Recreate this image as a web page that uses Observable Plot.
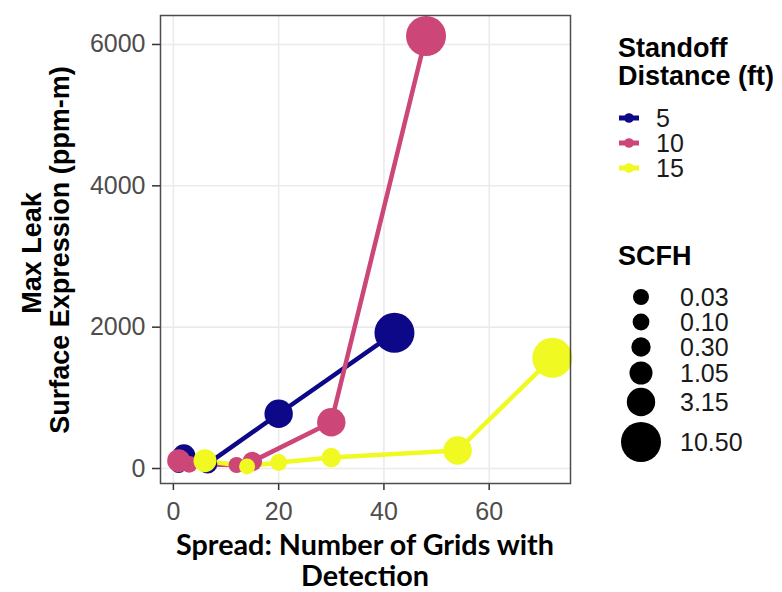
<!DOCTYPE html>
<html><head><meta charset="utf-8">
<script src="https://cdn.jsdelivr.net/npm/d3@7"></script>
<script src="https://cdn.jsdelivr.net/npm/@observablehq/plot@0.6"></script>
<style>
html,body{margin:0;padding:0;background:#fff;}
#wrap{position:relative;width:782px;height:592px;overflow:hidden;background:#fff;}
#wrap svg{position:absolute;left:0;top:0;}
</style></head><body><div id="wrap"></div>
<script>
// ---- data ----
const standoff = ["5", "10", "15"];
const standoffColors = ["#0D0887", "#CC4678", "#F0F921"];
const scfhLevels = [0.03, 0.10, 0.30, 1.05, 3.15, 10.50];
const scfhLabels = ["0.03", "0.10", "0.30", "1.05", "3.15", "10.50"];
const xTicks = [0, 20, 40, 60];
const yTicks = [0, 2000, 4000, 6000];

// standoff 5 ft
const spread5 = [1, 1, 2, 6.5, 20, 42];
const leak5 = [50, 70, 180, 65, 775, 1920];
const scfh5 = [0.03, 0.10, 1.05, 0.30, 3.15, 10.50];
// standoff 10 ft
const spread10 = [1, 3, 12, 15, 30, 48];
const leak10 = [110, 60, 50, 100, 655, 6120];
const scfh10 = [1.05, 0.10, 0.03, 0.30, 3.15, 10.50];
// standoff 15 ft
const spread15 = [6, 14, 20, 30, 54, 72];
const leak15 = [110, 30, 85, 155, 255, 1566];
const scfh15 = [1.05, 0.03, 0.10, 0.30, 3.15, 10.50];

const yTitle = ["Max Leak", "Surface Expression (ppm-m)"];
const xTitle = ["Spread: Number of Grids with", "Detection"];
const colorTitle = ["Standoff", "Distance (ft)"];
const sizeTitle = "SCFH";

// ---- build table ----
const rows = [];
[[standoff[0], spread5, leak5, scfh5],
 [standoff[1], spread10, leak10, scfh10],
 [standoff[2], spread15, leak15, scfh15]].forEach(([s, xs, ys, ss]) => {
  xs.forEach((x, i) => rows.push({standoff: s, spread: x, leak: ys[i], scfh: ss[i]}));
});

const FONT = "'Liberation Sans', Arial, Helvetica, sans-serif";

const plot = Plot.plot({
  width: 782, height: 592,
  marginLeft: 160, marginRight: 212, marginTop: 15, marginBottom: 109,
  style: {fontFamily: FONT, background: "transparent"},
  x: {domain: [-2.45, 75.45]},
  y: {domain: [-212, 6410]},
  color: {domain: standoff, range: standoffColors},
  r: {type: "linear", domain: scfhLevels, range: [8, 8.4, 9.7, 11.5, 14.2, 20]},
  marks: [
    Plot.gridX(xTicks, {stroke: "#EBEBEB", strokeOpacity: 1, strokeWidth: 1.6}),
    Plot.gridY(yTicks, {stroke: "#EBEBEB", strokeOpacity: 1, strokeWidth: 1.6}),
    Plot.axisX(xTicks, {tickSize: 7, tickPadding: 12, fontSize: 25, stroke: "#333", fill: "#4D4D4D", strokeWidth: 1.5, label: null, tickFormat: d => String(d)}),
    Plot.axisY(yTicks, {tickSize: 8, tickPadding: 7, fontSize: 25, stroke: "#333", fill: "#4D4D4D", strokeWidth: 1.5, label: null, tickFormat: d => String(d)}),
    Plot.line(rows, {x: "spread", y: "leak", z: "standoff", stroke: "standoff", strokeWidth: 4.5, strokeLinejoin: "round"}),
    Plot.dot(rows, {x: "spread", y: "leak", r: "scfh", fill: "standoff", stroke: null, sort: null}),
    Plot.frame({stroke: "#4D4D4D", strokeWidth: 1.5})
  ]
});
const wrap = document.getElementById("wrap");
wrap.appendChild(plot);

// ---- overlay: titles and legends ----
const rScale = plot.scale("r");
const svg = d3.select(wrap).append("svg")
  .attr("width", 782).attr("height", 592)
  .style("font-family", FONT);

// y title
svg.append("text").attr("transform", "translate(41,253) rotate(-90)")
  .attr("text-anchor", "middle").attr("font-size", 27).attr("font-weight", "bold").attr("fill", "#000")
  .text(yTitle[0]);
svg.append("text").attr("transform", "translate(69,250) rotate(-90)")
  .attr("text-anchor", "middle").attr("font-size", 27).attr("font-weight", "bold").attr("fill", "#000")
  .text(yTitle[1]);

// x title (Calibri-like)
const xt1 = svg.append("text").attr("x", 365).attr("y", 555).attr("text-anchor", "middle")
  .style("font-family", "Lato, 'Open Sans', sans-serif").attr("font-weight", "bold").attr("font-size", 25).attr("fill", "#000")
  .text(xTitle[0]);
const w = xt1.node().getComputedTextLength();
const fs = w > 0 ? 25 * 378 / w : 25;
xt1.attr("font-size", fs);
svg.append("text").attr("x", 365).attr("y", 586).attr("text-anchor", "middle")
  .style("font-family", "Lato, 'Open Sans', sans-serif").attr("font-weight", "bold").attr("font-size", fs).attr("fill", "#000")
  .text(xTitle[1]);

// color legend
svg.append("text").attr("x", 618).attr("y", 57).attr("font-size", 27).attr("font-weight", "bold").text(colorTitle[0]);
svg.append("text").attr("x", 618).attr("y", 85).attr("font-size", 27).attr("font-weight", "bold").text(colorTitle[1]);
standoff.forEach((s, i) => {
  const cy = 118 + i * 25;
  const g = svg.append("g");
  g.append("line").attr("x1", 619).attr("x2", 639).attr("y1", cy).attr("y2", cy)
    .attr("stroke", standoffColors[i]).attr("stroke-width", 5);
  g.append("circle").attr("cx", 629).attr("cy", cy).attr("r", 4.8).attr("fill", standoffColors[i]);
  g.append("text").attr("x", 656).attr("y", cy).attr("dy", "0.36em").attr("font-size", 25).attr("fill", "#1a1a1a").text(s);
});

// size legend
svg.append("text").attr("x", 618).attr("y", 265).attr("font-size", 27).attr("font-weight", "bold").text(sizeTitle);
const sizeY = [297, 322, 347, 373, 402, 442];
scfhLevels.forEach((v, i) => {
  svg.append("circle").attr("cx", 641).attr("cy", sizeY[i]).attr("r", rScale.apply(v)).attr("fill", "#000");
  svg.append("text").attr("x", 680).attr("y", sizeY[i]).attr("dy", "0.36em").attr("font-size", 25).attr("fill", "#1a1a1a").text(scfhLabels[i]);
});
</script>
</body></html>
